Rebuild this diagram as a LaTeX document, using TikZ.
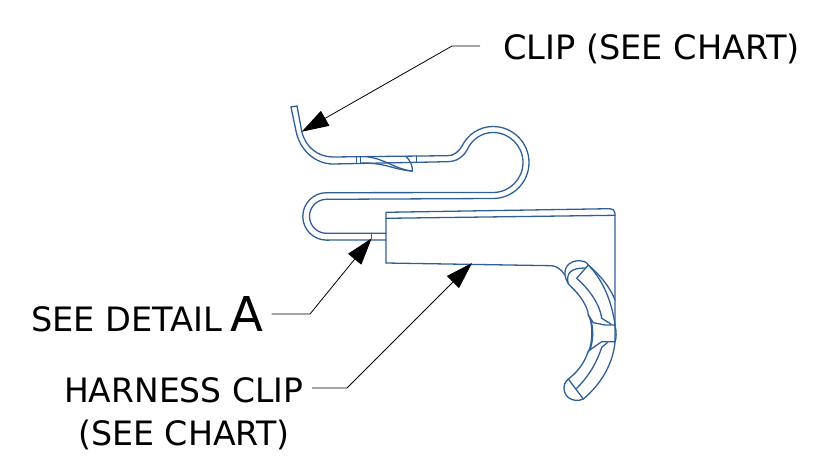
\documentclass[tikz,border=0pt]{standalone}
\usepackage{fontspec}
\setmainfont{DejaVu Sans}
\usetikzlibrary{arrows.meta}
\tikzset{
  part/.style={draw=partblue,line width=1.3pt,line join=round,line cap=round},
  leader/.style={draw=black,line width=0.8pt},
  arrowed/.style={leader,-{Triangle[length=27pt,width=17pt,fill=black]}},
  lbl/.style={inner sep=0pt,font=\fontsize{33.6}{38}\selectfont,text=black,anchor=base west},
}
\definecolor{partblue}{HTML}{2F5F98}
\begin{document}
\begin{tikzpicture}[x=1pt,y=-1pt]
\useasboundingbox (0,0) rectangle (816,466);
% clip spring
\draw[part] (291,107) -- (297,106) -- (301.7,131) .. controls (305,147) and (318,157) .. (333,157) -- (447,155.7)
  .. controls (455,155.7) and (459,151) .. (462,146) .. controls (468,134) and (480,126.5) .. (493,126.5)
  arc[start angle=-90,end angle=90,radius=36] -- (326.5,199.3) ;
\draw[part] (291,107) -- (296,131) .. controls (300,151) and (316,164) .. (333,164) -- (447,161.7)
  .. controls (457,161.7) and (463,157) .. (467,150) .. controls (472,139) and (482,132.5) .. (493,132.5)
  arc[start angle=-90,end angle=90,radius=30] -- (326.5,192.7);
\draw[part] (326.5,192.7) arc[start angle=-90,end angle=-270,radius=23.7] -- (386,240);
\draw[part] (326.5,199.3) arc[start angle=-90,end angle=-270,radius=17] -- (386,233.3);
\draw[part] (371.7,233.3) -- (371.7,238);
% clasp
\draw[part] (356.7,157) -- (356.7,163.5) (360.7,157) -- (360.7,163.2) (416.7,156) -- (416.7,162);
\draw[part] (360.7,163) .. controls (385,162.5) and (395,170) .. (411.7,171);
\draw[part] (368,157) .. controls (385,159) and (395,169) .. (411.7,171);
\draw[part] (405.5,156) .. controls (410,160) and (412.5,165) .. (412.5,171) -- (411.7,171);
% harness body
\draw[part] (386,263) -- (386,212.3) -- (610,208.7) .. controls (613,208.7) and (615,210.5) .. (615,213.5) -- (615,342) ;
\draw[part] (386,218.3) -- (615,215.3);
\draw[part] (386,263) -- (551.7,265.7) .. controls (556,266) and (561,269) .. (565,275);
% upper arm
\draw[part] (565,275) .. controls (564,265) and (572,260.7) .. (578,260.7) .. controls (583,260.7) and (587,262) .. (588.3,265)
  .. controls (600,275) and (610,287) .. (615,300);
\draw[part] (565,275) .. controls (566,282) and (570,286) .. (571.7,287.3) .. controls (580,295) and (588,307) .. (588.3,315);
\draw[part] (568,283) .. controls (566,272) and (572,268) .. (585,268);
\draw[part] (588.3,265) .. controls (603,280) and (612,302) .. (615,325);
\draw[part] (576.7,278.3) -- (588.3,265);
\draw[part] (576.7,278.3) .. controls (590,290) and (600,305) .. (601.7,318.3);
% centre web
\draw[part] (588.3,315) .. controls (593,322) and (593,343) .. (588.3,352);
\draw[part] (590.5,319) .. controls (593.5,328) and (593.5,340) .. (590,350);
\draw[part] (588.3,315) -- (593.3,322.7) -- (605,325) -- (615,325);
\draw[part] (601.7,318.3) -- (611,324);
\draw[part] (588.3,351) -- (601.7,341.7) -- (615,341.7);
\draw[part] (601.7,347.3) -- (607.3,342.7);
% lower arm
\draw[part] (615,325) .. controls (616.5,332) and (616.5,338) .. (615,341.7) .. controls (613,365) and (600,385) .. (583.3,399);
\draw[part] (601.7,347.3) .. controls (596,365) and (587,378) .. (576.7,388.3);
\draw[part] (588.3,351) .. controls (584,365) and (575,374) .. (568.3,379);
\draw[part] (568.3,379) -- (583.3,399);
\draw[part] (568.3,379) .. controls (562,384) and (563,394) .. (569,398) .. controls (573,401) and (579,401) .. (583.3,399);
% labels
\node[lbl] (clip) at (503,59) {CLIP (SEE CHART)};
\node[lbl] (detail) at (31,331) {SEE DETAIL\hspace{0.25em}{\fontsize{48}{50}\selectfont A}};
\node[lbl] (harness) at (64,402) {\addfontfeatures{FakeStretch=0.98}HARNESS CLIP};
\node[lbl] (chart) at (78,445) {\addfontfeatures{FakeStretch=0.99}(SEE CHART)};
% leader points
\coordinate (clipelbow) at (452,46);
\coordinate (cliptip) at (301.7,131.7);
\coordinate (detailelbow) at (310,314);
\coordinate (detailtip) at (371.7,238.3);
\coordinate (harnesselbow) at (347,388);
\coordinate (harnesstip) at (472,263);
\draw[arrowed] ([xshift=-23pt]clip.west |- clipelbow) -- (clipelbow) -- (cliptip);
\draw[arrowed] ([xshift=8pt]detail.east |- detailelbow) -- (detailelbow) -- (detailtip);
\draw[arrowed] ([xshift=9pt]harness.east |- harnesselbow) -- (harnesselbow) -- (harnesstip);
\end{tikzpicture}
\end{document}
